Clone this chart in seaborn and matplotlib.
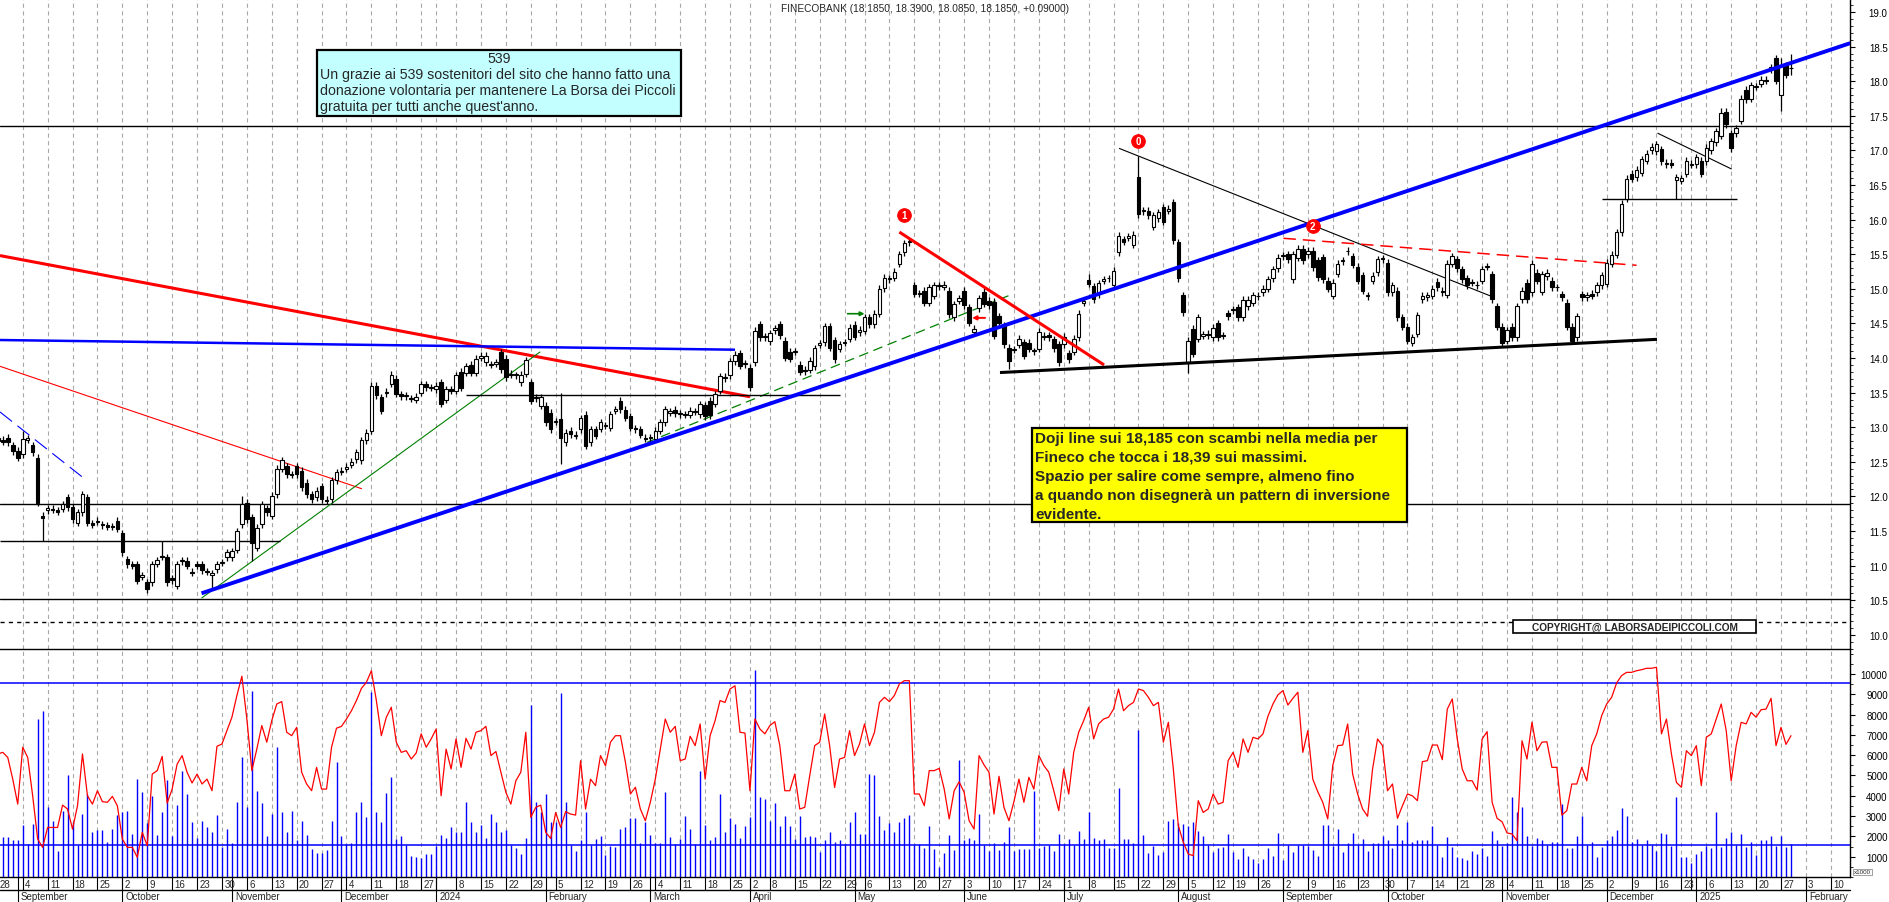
import numpy as np
import pandas as pd
import matplotlib
matplotlib.use("Agg")
import matplotlib.pyplot as plt
import matplotlib.transforms as mtransforms
from matplotlib.patches import Rectangle
from matplotlib.lines import Line2D
from matplotlib.ticker import MultipleLocator
import seaborn as sns

# ---------------- data ----------------
# daily candles, 28 Aug 2023 -> 29 Jan 2025 (Borsa Italiana trading days)
opens = [
    12.85, 12.82, 12.85, 12.74, 12.66, 12.61, 12.82, 12.74, 12.55, 11.72,
    11.80, 11.82, 11.80, 11.82, 11.99, 11.84, 11.62, 11.77, 11.99, 11.61,
    11.63, 11.60, 11.58, 11.57, 11.65, 11.47, 11.09, 11.02, 11.02, 10.84,
    10.76, 10.76, 11.03, 11.14, 11.12, 10.82, 10.71, 11.06, 11.07, 10.91,
    11.02, 11.02, 10.92, 10.87, 10.95, 11.04, 11.12, 11.12, 11.23, 11.60,
    11.91, 11.70, 11.26, 11.60, 11.83, 11.72, 12.03, 12.40, 12.44, 12.32,
    12.44, 12.37, 12.20, 12.03, 11.99, 12.15, 11.94, 11.96, 12.23, 12.36,
    12.40, 12.46, 12.54, 12.52, 12.81, 12.95, 13.60, 13.43, 13.49, 13.63,
    13.70, 13.48, 13.45, 13.42, 13.40, 13.50, 13.62, 13.58, 13.55, 13.65,
    13.40, 13.55, 13.53, 13.80, 13.79, 13.90, 13.79, 14.00, 13.94, 13.90,
    13.92, 14.08, 13.99, 13.77, 13.75, 13.65, 13.77, 13.65, 13.42, 13.31,
    13.31, 13.21, 13.08, 13.12, 12.78, 12.95, 12.88, 12.97, 13.18, 12.78,
    12.97, 12.98, 13.02, 12.99, 13.24, 13.38, 13.25, 13.16, 12.98, 12.97,
    12.85, 12.84, 12.83, 12.95, 13.07, 13.21, 13.25, 13.19, 13.19, 13.18,
    13.22, 13.19, 13.32, 13.38, 13.34, 13.53, 13.71, 13.75, 13.95, 14.07,
    13.91, 13.86, 13.94, 14.49, 14.30, 14.24, 14.40, 14.49, 14.25, 14.09,
    14.09, 13.90, 13.83, 13.83, 13.88, 14.19, 14.23, 14.46, 14.26, 14.13,
    14.22, 14.28, 14.48, 14.37, 14.39, 14.59, 14.49, 14.64, 15.01, 15.14,
    15.16, 15.36, 15.53, 15.67, 15.05, 14.94, 14.97, 14.80, 14.90, 15.04,
    15.03, 14.97, 14.59, 14.83, 14.97, 14.73, 14.38, 14.72, 14.96, 14.83,
    14.81, 14.60, 14.47, 14.15, 14.12, 14.19, 14.23, 14.22, 14.10, 14.13,
    14.31, 14.33, 14.27, 14.20, 14.20, 14.07, 14.09, 14.30, 14.80, 15.13,
    15.04, 14.92, 15.12, 15.15, 15.06, 15.53, 15.72, 15.74, 15.64, 16.61,
    16.12, 16.13, 15.90, 16.02, 16.18, 16.13, 16.25, 15.67, 14.91, 13.94,
    14.42, 14.28, 14.32, 14.35, 14.30, 14.50, 14.32, 14.65, 14.69, 14.73,
    14.59, 14.75, 14.80, 14.89, 14.95, 15.00, 15.15, 15.30, 15.47, 15.50,
    15.14, 15.45, 15.58, 15.50, 15.55, 15.41, 15.46, 15.12, 14.90, 15.22,
    15.40, 15.54, 15.47, 15.32, 15.20, 14.89, 15.12, 15.24, 15.43, 15.38,
    14.95, 14.97, 14.59, 14.45, 14.22, 14.35, 14.85, 14.88, 14.90, 15.10,
    14.97, 14.91, 15.36, 15.43, 15.28, 15.15, 15.09, 15.06, 15.12, 15.32,
    15.21, 14.75, 14.45, 14.25, 14.45, 14.30, 14.85, 15.09, 14.95, 15.23,
    14.96, 15.18, 15.12, 15.02, 14.92, 14.80, 14.45, 14.30, 14.92, 14.88,
    14.93, 14.95, 15.05, 15.07, 15.36, 15.49, 15.82, 16.30, 16.66, 16.61,
    16.68, 16.85, 17.00, 16.99, 17.02, 16.82, 16.82, 16.57, 16.56, 16.66,
    16.79, 16.80, 16.85, 16.84, 17.00, 17.12, 17.21, 17.56, 17.25, 17.25,
    17.43, 17.88, 17.75, 17.92, 17.96, 18.01, 18.17, 18.33, 17.80, 18.23,
    18.185,
]
closes = [
    12.80, 12.79, 12.78, 12.65, 12.56, 12.83, 12.84, 12.64, 11.91, 11.69,
    11.83, 11.81, 11.78, 11.89, 11.84, 11.67, 11.77, 12.03, 11.62, 11.59,
    11.65, 11.58, 11.56, 11.56, 11.53, 11.19, 11.02, 11.00, 10.78, 10.86,
    10.66, 11.02, 11.08, 11.13, 10.76, 10.79, 11.02, 11.08, 11.00, 10.90,
    11.00, 10.93, 10.91, 10.89, 11.02, 11.05, 11.19, 11.21, 11.50, 11.89,
    11.67, 11.33, 11.55, 11.89, 11.77, 12.01, 12.40, 12.52, 12.32, 12.31,
    12.32, 12.13, 12.03, 11.96, 12.08, 11.96, 11.95, 12.23, 12.35, 12.37,
    12.43, 12.50, 12.64, 12.81, 12.92, 13.60, 13.46, 13.24, 13.51, 13.76,
    13.48, 13.45, 13.46, 13.41, 13.44, 13.62, 13.58, 13.57, 13.60, 13.34,
    13.55, 13.53, 13.75, 13.57, 13.88, 13.79, 13.99, 14.03, 14.03, 13.90,
    13.94, 13.84, 13.72, 13.76, 13.75, 13.76, 13.97, 13.38, 13.43, 13.43,
    13.07, 12.97, 13.09, 12.85, 12.92, 12.90, 12.89, 13.13, 12.73, 12.97,
    12.88, 13.07, 13.03, 13.19, 13.26, 13.26, 13.14, 12.99, 12.97, 12.89,
    12.83, 12.85, 12.95, 13.07, 13.26, 13.23, 13.20, 13.20, 13.18, 13.24,
    13.23, 13.33, 13.16, 13.17, 13.48, 13.74, 13.73, 13.95, 14.05, 13.89,
    13.92, 13.58, 14.39, 14.30, 14.31, 14.36, 14.43, 14.33, 14.00, 13.99,
    14.10, 13.80, 13.81, 13.96, 14.14, 14.21, 14.46, 14.15, 13.98, 14.20,
    14.23, 14.44, 14.31, 14.41, 14.59, 14.49, 14.64, 15.00, 15.16, 15.15,
    15.25, 15.50, 15.66, 15.69, 14.93, 14.93, 14.80, 15.02, 15.05, 15.05,
    15.06, 14.63, 14.78, 14.86, 14.76, 14.51, 14.42, 14.86, 14.78, 14.76,
    14.32, 14.50, 14.20, 13.96, 14.13, 14.28, 14.03, 14.13, 14.10, 14.38,
    14.32, 14.30, 14.14, 13.94, 14.31, 13.98, 14.28, 14.64, 14.82, 15.07,
    14.85, 15.08, 15.14, 15.15, 15.26, 15.77, 15.68, 15.76, 15.78, 16.08,
    16.13, 16.06, 16.06, 16.11, 15.97, 16.16, 15.70, 15.15, 14.66, 14.25,
    14.06, 14.59, 14.34, 14.33, 14.44, 14.30, 14.33, 14.60, 14.70, 14.59,
    14.84, 14.84, 14.91, 14.90, 15.00, 15.14, 15.28, 15.45, 15.48, 15.43,
    15.50, 15.58, 15.41, 15.55, 15.31, 15.17, 15.14, 15.00, 15.09, 15.36,
    15.41, 15.55, 15.35, 15.12, 14.97, 14.91, 15.19, 15.43, 15.44, 14.95,
    15.05, 14.59, 14.45, 14.25, 14.30, 14.62, 14.90, 14.91, 15.00, 15.02,
    14.95, 15.36, 15.47, 15.30, 15.14, 15.05, 15.09, 15.05, 15.28, 15.33,
    14.85, 14.45, 14.22, 14.40, 14.30, 14.75, 14.97, 14.85, 15.36, 15.12,
    15.21, 15.23, 15.02, 15.02, 14.88, 14.45, 14.25, 14.60, 14.88, 14.91,
    14.90, 15.05, 15.20, 15.38, 15.49, 15.82, 16.23, 16.59, 16.59, 16.72,
    16.87, 16.95, 17.05, 17.09, 16.84, 16.80, 16.79, 16.61, 16.60, 16.85,
    16.81, 16.90, 16.66, 17.04, 17.13, 17.28, 17.54, 17.38, 17.03, 17.32,
    17.75, 17.74, 17.94, 17.93, 18.02, 18.02, 18.20, 18.01, 18.24, 18.095,
    18.185,
]
# shadows that stand out from the usual short wicks
high_marks = {5: 12.95, 8: 12.62, 33: 11.35, 49: 12.00, 75: 13.66, 113: 13.50,
              152: 14.45, 183: 15.74, 219: 15.22, 229: 16.92, 236: 16.30,
              291: 15.42, 346: 17.62, 358: 18.34, 360: 18.39}
low_marks = {9: 11.35, 30: 10.60, 43: 10.65, 51: 11.06, 113: 12.47, 203: 13.84,
             239: 13.79, 337: 16.30, 358: 17.57, 360: 18.085}

# volume (x1000) and the red indicator of the lower panel
volume_k = [
    1.96, 1.96, 1.96, 1.80, 1.80, 2.54, 1.63, 2.61, 7.78, 8.19,
    3.43, 2.77, 1.30, 3.27, 5.02, 2.72, 1.59, 3.10, 4.09, 2.23,
    2.33, 2.33, 1.74, 2.36, 3.05, 3.22, 3.27, 2.12, 4.82, 4.20,
    2.66, 4.00, 2.07, 3.18, 4.79, 2.04, 3.56, 5.24, 4.09, 2.69,
    1.92, 2.77, 2.48, 2.23, 3.05, 1.46, 2.36, 1.67, 3.68, 5.89,
    3.46, 9.18, 4.25, 3.64, 2.04, 3.10, 6.42, 3.22, 2.20, 3.27,
    1.84, 2.77, 2.08, 1.38, 1.18, 1.18, 1.33, 2.77, 5.68, 2.04,
    1.63, 1.67, 3.22, 3.71, 2.97, 9.13, 3.18, 2.72, 4.14, 4.94,
    1.87, 2.04, 1.59, 1.05, 0.97, 0.94, 1.13, 1.13, 1.54, 2.08,
    1.94, 2.48, 2.23, 2.23, 3.68, 2.72, 2.20, 2.54, 1.92, 3.10,
    2.72, 2.23, 2.33, 1.59, 1.43, 1.13, 1.92, 8.49, 3.68, 3.18,
    4.09, 2.72, 2.72, 9.06, 3.68, 1.59, 1.30, 1.84, 3.18, 1.59,
    1.87, 2.04, 1.08, 1.54, 1.46, 2.36, 2.48, 2.89, 2.89,
    1.67, 2.69, 2.07, 1.67, 1.67, 4.17, 1.96, 1.63, 1.87, 2.99,
    2.36, 1.63, 5.24, 2.56, 1.80, 1.96, 4.09, 2.23, 2.90, 2.61,
    1.92, 2.50, 2.94, 10.20, 3.92, 3.84, 2.74, 3.64, 2.50, 2.99,
    2.50, 1.87, 2.99, 1.96, 2.00, 1.96, 1.25, 1.82, 2.20, 1.74,
    1.82, 1.63, 2.69, 3.18, 2.12, 2.12, 5.07, 5.02, 3.02, 2.31,
    2.66, 2.20, 2.69, 2.89, 3.05, 1.59, 1.63, 1.43, 2.50, 1.38,
    0.47, 1.18, 2.07, 1.34, 5.76, 1.82, 1.92, 1.82, 3.10, 1.59,
    1.30, 1.67, 1.34, 1.74, 2.46, 1.30, 1.38, 1.38, 1.38, 4.25,
    1.43, 1.51, 1.59, 1.30, 2.12, 1.63, 1.87, 1.59, 2.25, 1.87,
    3.22, 1.92, 1.80, 1.87, 1.43, 1.41, 4.38, 1.87, 1.87, 1.67,
    7.26, 2.07, 1.18, 1.51, 1.08, 1.25, 2.77, 2.86, 2.66, 2.61,
    2.50, 2.69, 2.25, 2.04, 1.59, 1.25, 1.43, 1.46, 2.12, 1.21,
    0.89, 1.43, 1.05, 0.89, 0.69,
    0.89, 1.43, 1.05, 2.17, 0.85, 1.59, 1.25, 1.59, 1.59, 1.54,
    1.34, 1.05, 2.58, 2.58, 1.54, 2.36, 1.25, 1.67, 2.17, 1.59,
    1.87, 1.28, 1.67, 1.67, 2.04, 1.82, 1.43, 2.58, 1.80, 2.72,
    1.74, 1.82, 1.82, 1.82, 2.53, 1.59, 1.00, 1.96, 1.46, 1.00,
    0.94, 0.84, 1.26, 1.13, 1.41, 1.05, 2.25, 1.80, 1.54, 1.67,
    3.95, 3.18, 3.46, 2.04, 1.54, 1.92, 1.80, 1.59, 1.74, 1.74,
    3.59, 1.41, 1.43, 2.04, 3.02, 1.59, 1.74, 1.00, 1.49, 1.80,
    2.00, 2.33, 3.40, 3.02, 1.71, 1.87, 1.59, 1.80, 1.59, 1.30,
    2.17, 2.12, 1.54, 3.92, 1.00, 1.00, 0.69, 1.13, 1.28, 1.51,
    1.43, 3.22, 1.49, 1.92, 2.23, 1.59, 2.12, 1.49, 1.74, 1.08,
    1.84, 1.80, 2.04, 1.54, 2.00, 1.49, 1.63,
]
indicator_k = [
    6.06, 6.14, 5.89, 4.82, 3.59, 6.39, 5.89, 4.00, 1.87, 1.46,
    2.44, 2.44, 2.44, 3.54, 3.35, 2.36, 3.51, 6.06, 4.00, 3.59,
    4.25, 3.71, 3.68, 3.97, 3.51, 1.87, 1.46, 1.46, 0.97, 2.20,
    1.54, 5.07, 5.24, 5.94, 3.64, 4.33, 5.56, 5.98, 5.16, 4.63,
    5.07, 4.58, 4.82, 4.25, 6.44, 6.55, 7.21, 7.87, 8.94, 9.89,
    7.78, 5.24, 6.30, 7.46, 6.64, 7.70, 8.52, 8.64, 7.13, 6.96,
    7.37, 5.16, 4.58, 4.25, 5.40, 4.33, 4.33, 6.39, 7.33, 7.42,
    7.78, 8.19, 8.69, 9.29, 9.59, 10.16, 8.69, 6.96, 7.87, 8.36,
    6.64, 6.14, 6.22, 5.81, 6.11, 7.05, 6.39, 6.80, 7.29, 4.00,
    6.30, 5.32, 6.80, 5.40, 6.83, 6.30, 7.13, 7.21, 7.42, 5.98,
    6.18, 5.16, 4.17, 3.59, 4.74, 5.16, 7.13, 2.94, 3.43, 3.54,
    2.20, 1.90, 3.18, 2.44, 3.22, 3.10, 3.05, 5.73, 3.35, 4.82,
    4.50, 5.98, 5.48, 6.64, 6.96, 6.96, 5.65, 4.09, 4.42, 3.35,
    2.77, 3.68, 4.82, 6.30, 7.78, 7.13, 7.42, 5.73, 5.81, 6.93,
    6.47, 7.54, 4.82, 6.96, 7.70, 8.69, 8.60, 9.26, 9.42, 7.13,
    7.09, 4.25, 7.78, 7.29, 7.05, 7.46, 7.65, 6.47, 4.25, 4.25,
    5.07, 3.35, 3.43, 4.99, 6.47, 6.64, 8.03, 6.47, 4.41, 5.81,
    5.89, 7.21, 5.98, 6.55, 7.54, 6.47, 7.13, 8.60, 8.85, 8.64,
    8.94, 9.51, 9.67, 9.67, 4.09, 4.09, 3.51, 5.24, 5.24, 5.35,
    4.33, 2.86, 4.25, 4.69, 4.17, 2.77, 2.36, 5.98, 5.52, 5.16,
    3.10, 4.96, 3.43, 2.77, 3.71, 4.82, 3.68, 4.91, 4.33, 5.98,
    5.49, 5.16, 4.25, 3.27, 5.32, 4.09, 6.14, 7.13, 7.70, 8.36,
    6.80, 7.54, 7.78, 7.87, 8.27, 9.26, 8.19, 8.44, 8.60, 9.26,
    9.18, 8.85, 8.44, 8.60, 6.64, 7.62, 5.32, 2.53, 1.71, 1.13,
    1.05, 3.76, 3.18, 3.35, 4.09, 3.59, 3.68, 5.73, 6.14, 5.40,
    6.80, 6.14, 6.88, 6.80,
    7.05, 7.92, 8.52, 8.97, 9.18, 8.47, 8.80, 9.10, 6.14, 7.21,
    4.82, 4.20, 3.68, 2.86, 5.48, 6.47, 6.50, 7.54, 5.07, 4.09,
    3.35, 2.99, 5.32, 6.80, 6.47, 4.25, 4.58, 2.89, 3.51, 4.09,
    4.00, 3.76, 5.68, 5.73, 6.50, 6.50, 5.78, 8.27, 8.77, 6.80,
    5.32, 4.74, 4.74, 4.28, 6.80, 7.16, 3.68, 2.89, 2.72, 2.17,
    2.12, 1.79, 6.71, 5.81, 7.62, 6.22, 6.64, 6.66, 5.40, 5.40,
    3.05, 3.27, 4.58, 4.58, 5.40, 4.74, 6.47, 7.05, 7.95, 8.52,
    8.85, 9.56, 9.92, 10.08, 10.08, 10.16, 10.21, 10.28, 10.28, 10.33,
    7.05, 7.78, 6.06, 4.66, 4.42, 6.22, 5.98, 6.47, 4.50, 6.88,
    7.05, 7.78, 8.52, 7.21, 4.74, 6.47, 7.62, 7.54, 8.11, 7.87,
    8.24, 8.27, 8.80, 6.47, 7.37, 6.53, 6.96,
]

holidays = ["2023-12-25", "2023-12-26", "2024-01-01", "2024-03-29", "2024-04-01",
            "2024-05-01", "2024-08-15", "2024-12-24", "2024-12-25", "2024-12-26",
            "2024-12-31", "2025-01-01"]

# drawn studies: (day index, price) end points
red_long = [(0.44, 15.48), (151.0, 13.44)]
red_thin = [(0.44, 13.88), (73.1, 12.11)]
blue_dash = [(0.44, 13.22), (17.85, 12.23)]
blue_flat = [(0.44, 14.26), (148.0, 14.12)]
blue_up = [(40.9, 10.60), (371.9, 18.55)]
green_up = [(40.9, 10.53), (108.9, 14.09)]
green_dash = [(130.3, 12.78), (202.9, 14.90)]
red_short = [(181.0, 15.82), (222.1, 13.90)]
black_support = [(201.2, 13.79), (333.1, 14.27)]
black_down = [(225.1, 17.03), (299.9, 14.89)]
red_dash = [(258.1, 15.73), (329.0, 15.34)]
flag_top = [(333.2, 17.25), (348.1, 16.73)]
flag_base = [(322.1, 16.30), (349.1, 16.30)]
range_top = [(94.0, 13.47), (169.0, 13.47)]
sept_low = [(0.44, 11.35), (56.7, 11.35)]
levels = [17.35, 11.89, 10.52]
dotted_level = 10.18
pivot_x = [182, 229, 264]
pivot_y = [16.07, 17.13, 15.91]
pivot_txt = ["1", "0", "2"]
vol_levels = [9.55, 1.60]

title = "FINECOBANK (18.1850, 18.3900, 18.0850, 18.1850, +0.09000)"
cyan_lines = ["Un grazie ai 539 sostenitori del sito che hanno fatto una",
              "donazione volontaria per mantenere La Borsa dei Piccoli",
              "gratuita per tutti anche quest'anno."]
yellow_lines = ["Doji line sui 18,185 con scambi nella media per",
                "Fineco che tocca i 18,39 sui massimi.",
                "Spazio per salire come sempre, almeno fino",
                "a quando non disegnerà un pattern di inversione",
                "evidente."]

# ---------------- figure ----------------
sns.set_style("white")
plt.rcParams["font.family"] = ["Liberation Sans", "DejaVu Sans"]
plt.rcParams["lines.scale_dashes"] = False

W, H = 1890, 903
def fx(px):
    return px / W
def fy(py):
    return 1 - py / H

fig = plt.figure(figsize=(W / 100, H / 100), dpi=100)
ax = fig.add_axes([0, fy(650), fx(1850), 650 / H])
axv = fig.add_axes([0, fy(878), fx(1850), 228 / H])

assert len(opens) == len(closes) == len(volume_k) == len(indicator_k)
n = len(closes)
idx = np.arange(n)

days = pd.bdate_range("2023-08-28", "2025-02-14")
days = days[~days.isin(pd.to_datetime(holidays))]
iso = days.isocalendar()
wk = (iso.year.astype(str) + "-" + iso.week.astype(str)).values
week_start = [i for i in range(len(days)) if i == 0 or wk[i] != wk[i - 1]]
month_start = [i for i in range(1, len(days)) if days[i].month != days[i - 1].month]

XMIN, XMAX = 0.44, 371.85
grid_kw = dict(color="#a8a8a8", lw=0.8, ls=(0, (3, 2.5)), zorder=0)
for a in (ax, axv):
    a.set_xlim(XMIN, XMAX)
    for w in week_start:
        a.axvline(w, **grid_kw)

# candles
o = np.array(opens)
c = np.array(closes)
top = np.maximum(o, c)
bot = np.minimum(o, c)
wick = 0.05
hi = top + wick
lo = bot - wick
for k, v in high_marks.items():
    hi[k] = v
for k, v in low_marks.items():
    lo[k] = v
ax.vlines(idx, lo, hi, color="black", lw=0.9, zorder=4)
ax.bar(idx, np.maximum(top - bot, 0.012), bottom=bot, width=0.72,
       color=np.where(c >= o, "white", "black"), edgecolor="black",
       linewidth=0.8, zorder=5)

# studies
def seg(pts, **kw):
    (x0, y0), (x1, y1) = pts
    ax.plot([x0, x1], [y0, y1], solid_capstyle="butt", **kw)

seg(red_long, color="#ff0000", lw=2.2, zorder=3)
seg(red_thin, color="#ff0000", lw=0.8, zorder=3)
seg(blue_dash, color="#0000ff", lw=0.8, ls=(0, (11, 5)), zorder=3)
seg(blue_flat, color="#0000ff", lw=1.8, zorder=3)
seg(blue_up, color="#0000ff", lw=2.8, zorder=6)
seg(green_up, color="#008000", lw=0.8, zorder=3)
seg(green_dash, color="#008000", lw=0.9, ls=(0, (7, 4)), zorder=3)
seg(red_short, color="#ff0000", lw=2.2, zorder=6)
seg(black_support, color="black", lw=2.2, zorder=6)
seg(black_down, color="black", lw=0.8, zorder=3)
seg(red_dash, color="#ff0000", lw=1.1, ls=(0, (9, 5)), zorder=3)
seg(flag_top, color="black", lw=0.8, zorder=3)
seg(flag_base, color="black", lw=1.0, zorder=3)
seg(range_top, color="black", lw=1.0, zorder=3)
seg(sept_low, color="black", lw=1.0, zorder=3)
for lv in levels:
    ax.axhline(lv, color="black", lw=1.0, zorder=2)
ax.axhline(dotted_level, color="black", lw=1.0, ls=(0, (3, 3)), zorder=2)

sns.scatterplot(x=pivot_x, y=pivot_y, ax=ax, s=95, color="#ff0000",
                edgecolor="#ff0000", zorder=8, legend=False)
for x, y, t in zip(pivot_x, pivot_y, pivot_txt):
    ax.text(x, y, t, color="white", fontsize=7, fontweight="bold",
            ha="center", va="center", zorder=9)
ax.annotate("", xy=(174.0, 14.64), xytext=(170.6, 14.64),
            arrowprops=dict(arrowstyle="-|>", color="#008000", lw=1.2,
                            mutation_scale=6, shrinkA=0, shrinkB=0), zorder=8)
ax.annotate("", xy=(195.6, 14.58), xytext=(198.2, 14.58),
            arrowprops=dict(arrowstyle="-|>", color="#ff0000", lw=1.4,
                            mutation_scale=6, shrinkA=0, shrinkB=0), zorder=8)

ax.set_ylim(9.795, 19.188)

# volume panel
axv.vlines(idx, 0, volume_k, color="#0000ff", lw=1.0, zorder=2)
sns.lineplot(x=idx, y=indicator_k, ax=axv, color="#ff0000", lw=0.9,
             zorder=3, legend=False)
for lv in vol_levels:
    axv.axhline(lv, color="#0000ff", lw=1.1, zorder=2)
axv.set_ylim(0, 11.23)
axv.set_xlabel("")
axv.set_ylabel("")

# axes frames and right scales
for a in (ax, axv):
    a.yaxis.tick_right()
    a.tick_params(axis="x", which="both", bottom=False, top=False,
                  labelbottom=False)
    a.spines["left"].set_visible(False)
    for s in ("right", "top", "bottom"):
        a.spines[s].set_color("black")
        a.spines[s].set_linewidth(1.0)
ax.spines["top"].set_visible(False)
ax.spines["bottom"].set_visible(False)

ax.set_yticks(np.arange(10.0, 19.01, 0.5))
ax.set_yticklabels([f"{v:.1f}" for v in np.arange(10.0, 19.01, 0.5)])
ax.yaxis.set_minor_locator(MultipleLocator(0.1))
axv.set_yticks(np.arange(1, 11))
axv.set_yticklabels([str(v * 1000) for v in range(1, 11)])
axv.yaxis.set_minor_locator(MultipleLocator(0.5))
for a in (ax, axv):
    a.tick_params(axis="y", which="major", length=3.6, width=0.8,
                  direction="out", labelsize=7, pad=23.5, colors="black")
    a.tick_params(axis="y", which="minor", length=2.0, width=0.7,
                  direction="out")
    for lab in a.get_yticklabels():
        lab.set_horizontalalignment("right")

fig.text(fx(1854), fy(873), "x1000", fontsize=4.5, va="center", ha="left",
         bbox=dict(boxstyle="square,pad=0.15", fc="white", ec="#909090", lw=0.6))

# date rows under the chart
tr = mtransforms.blended_transform_factory(ax.transData, fig.transFigure)
fig.add_artist(Line2D([0, fx(1850)], [fy(891), fy(891)], color="black", lw=1.0))
for w in week_start:
    d = days[w]
    if w > 0:
        fig.add_artist(Line2D([w, w], [fy(878), fy(891)], transform=tr,
                              color="black", lw=0.8))
    wdays = days[w:w + 5]
    wdays = wdays[wk[w:w + 5] == wk[w]]
    if any((x.month == 1 and x.day <= 3) for x in wdays):
        continue
    fig.text(w + 0.45, fy(885), str(d.day), transform=tr, fontsize=7,
             ha="left", va="center")
for m in month_start:
    d = days[m]
    fig.add_artist(Line2D([m, m], [fy(878), fy(903)], transform=tr,
                          color="black", lw=0.8))
    name = str(d.year) if d.month == 1 else d.strftime("%B")
    fig.text(m + 0.6, fy(897.5), name, transform=tr, fontsize=7,
             ha="left", va="center")

# title and note boxes
fig.text(fx(781), fy(8.5), title, fontsize=7.3, ha="left", va="center")

fig.add_artist(Rectangle((fx(317), fy(117)), fx(364), 66 / H, transform=fig.transFigure,
                         fc="#c4ffff", ec="black", lw=1.6, zorder=5))
fig.text(fx(499), fy(59), "539", fontsize=10.2, ha="center", va="center", zorder=6)
for k, line in enumerate(cyan_lines):
    fig.text(fx(320), fy(75 + 16.2 * k), line, fontsize=10.2, ha="left",
             va="center", zorder=6)

fig.add_artist(Rectangle((fx(1032), fy(523)), fx(375), 94 / H, transform=fig.transFigure,
                         fc="#ffff00", ec="black", lw=1.6, zorder=5))
for k, line in enumerate(yellow_lines):
    fig.text(fx(1035), fy(439 + 18.9 * k), line, fontsize=11, fontweight="bold",
             ha="left", va="center", zorder=6)

fig.add_artist(Rectangle((fx(1513), fy(634)), fx(243), 13 / H, transform=fig.transFigure,
                         fc="white", ec="black", lw=1.2, zorder=5))
fig.text(fx(1634.5), fy(627.5), "COPYRIGHT@ LABORSADEIPICCOLI.COM", fontsize=7.3,
         fontweight="bold", ha="center", va="center", zorder=6)

fig.savefig("out.png", dpi=100)
